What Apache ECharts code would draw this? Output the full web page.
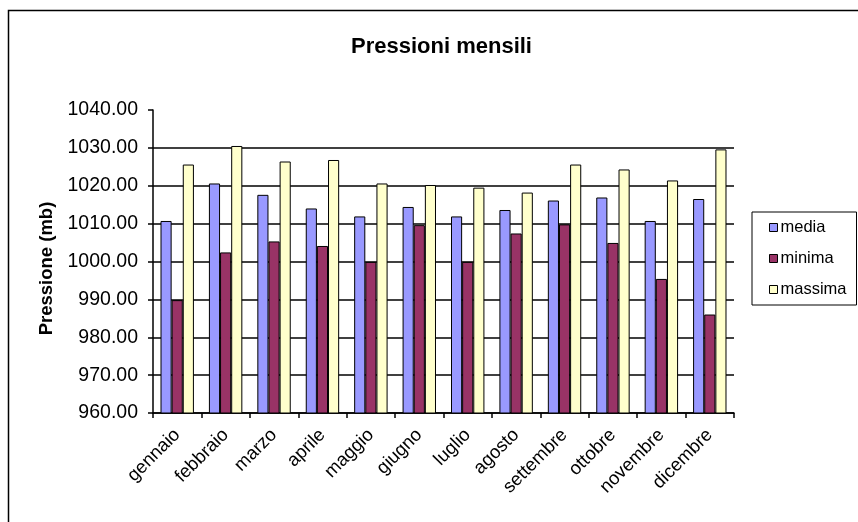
<!DOCTYPE html>
<html>
<head>
<meta charset="utf-8">
<script src="https://cdn.jsdelivr.net/npm/echarts@6/dist/echarts.min.js"></script>
<style>html,body{margin:0;padding:0;background:#fff}#c{width:858px;height:522px}</style>
</head>
<body>
<div id="c"></div>
<script>
const months = ['gennaio','febbraio','marzo','aprile','maggio','giugno','luglio','agosto','settembre','ottobre','novembre','dicembre'];
const media   = [1010.7, 1020.6, 1017.6, 1014.0, 1011.9, 1014.4, 1011.9, 1013.6, 1016.1, 1016.9, 1010.7, 1016.5];
const minima  = [989.8, 1002.4, 1005.3, 1004.1, 999.9, 1009.6, 999.9, 1007.4, 1009.8, 1004.9, 995.4, 986.0];
const massima = [1025.6, 1030.5, 1026.4, 1026.8, 1020.6, 1020.2, 1019.5, 1018.2, 1025.6, 1024.3, 1021.4, 1029.6];
const yTicks = { min: 960, max: 1040, interval: 10 };

const font = 'Liberation Sans, Arial, sans-serif';
const chart = echarts.init(document.getElementById('c'), null, { renderer: 'canvas' });
const bar = (name, data, color) => ({
  name, type: 'bar', data, barGap: '0%', barCategoryGap: '31%',
  itemStyle: { color, borderColor: '#000', borderWidth: 1 }
});
chart.setOption({
  animation: false,
  backgroundColor: '#fff',
  graphic: [{ type: 'rect', shape: { x: 8.5, y: 10.5, width: 1000, height: 700 }, style: { fill: 'none', stroke: '#000', lineWidth: 1.5 }, silent: true }],
  title: { text: 'Pressioni mensili', left: 346, top: 31, textStyle: { fontFamily: font, fontSize: 22, fontWeight: 'bold', color: '#000' } },
  legend: {
    orient: 'vertical', left: 752, top: 212, padding: [7, 10, 7, 17],
    borderColor: '#000', borderWidth: 1, itemGap: 14,
    itemWidth: 8, itemHeight: 8, icon: 'rect',
    itemStyle: { borderColor: '#000', borderWidth: 1 },
    textStyle: { fontFamily: font, fontSize: 16.5, color: '#000', padding: [0, 0, 0, -2] },
    data: ['media', 'minima', 'massima']
  },
  grid: { left: 153, right: 124, top: 110, bottom: 109, containLabel: false },
  xAxis: {
    type: 'category', data: months, boundaryGap: true,
    axisLine: { lineStyle: { color: '#000', width: 1.5 } },
    axisTick: { show: true, length: 5, lineStyle: { color: '#000', width: 1.5 } },
    axisLabel: { rotate: 45, margin: 19, interval: 0, color: '#000', fontFamily: font, fontSize: 18.5 }
  },
  yAxis: {
    type: 'value', min: yTicks.min, max: yTicks.max, interval: yTicks.interval,
    name: 'Pressione (mb)', nameLocation: 'middle', nameRotate: 90, nameGap: 96,
    nameTextStyle: { fontFamily: font, fontSize: 18.5, fontWeight: 'bold', color: '#000', padding: [0, 14, 0, 0] },
    axisLine: { show: true, lineStyle: { color: '#000', width: 1.5 } },
    axisTick: { show: true, length: 5, lineStyle: { color: '#000', width: 1.5 } },
    axisLabel: { formatter: v => v.toFixed(2), margin: 15, color: '#000', fontFamily: font, fontSize: 19.5 },
    splitLine: { show: true, showMaxLine: false, lineStyle: { color: '#000', width: 1.5 } }
  },
  series: [
    bar('media', media, '#9999FF'),
    bar('minima', minima, '#993366'),
    bar('massima', massima, '#FFFFCC')
  ]
});
</script>
</body>
</html>
